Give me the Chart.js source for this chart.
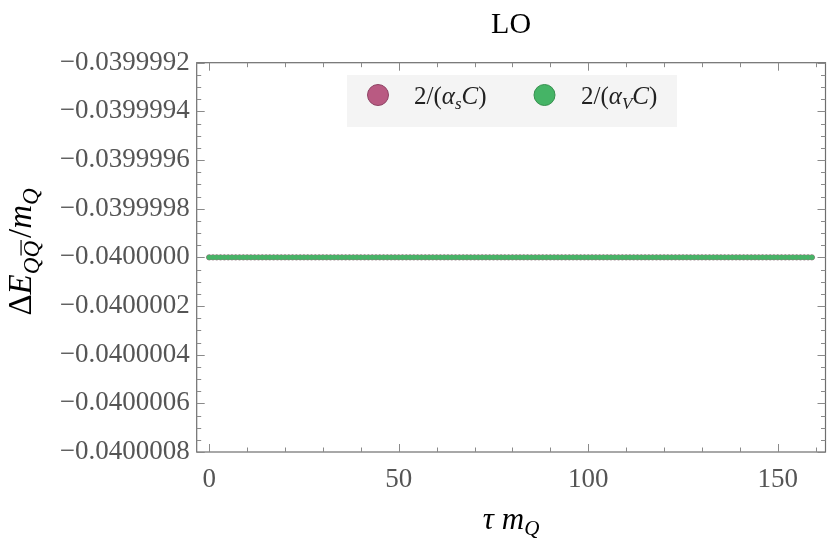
<!DOCTYPE html>
<html lang="en">
<head>
<meta charset="utf-8" />
<title>LO</title>
<style>
  html, body { margin: 0; padding: 0; background: #fff; }
  canvas { display: block; }
</style>
</head>
<body>
<canvas id="chart" width="830" height="556"></canvas>
<script src="https://cdn.jsdelivr.net/npm/chart.js@4.4.0/dist/chart.umd.min.js"></script>
<script>
// tau * m_Q sample points
const tau = [
  0, 1, 2, 3, 4, 5, 6, 7, 8, 9, 10, 11, 12, 13, 14, 15, 16, 17, 18, 19,
  20, 21, 22, 23, 24, 25, 26, 27, 28, 29, 30, 31, 32, 33, 34, 35, 36, 37, 38, 39,
  40, 41, 42, 43, 44, 45, 46, 47, 48, 49, 50, 51, 52, 53, 54, 55, 56, 57, 58, 59,
  60, 61, 62, 63, 64, 65, 66, 67, 68, 69, 70, 71, 72, 73, 74, 75, 76, 77, 78, 79,
  80, 81, 82, 83, 84, 85, 86, 87, 88, 89, 90, 91, 92, 93, 94, 95, 96, 97, 98, 99,
  100, 101, 102, 103, 104, 105, 106, 107, 108, 109, 110, 111, 112, 113, 114, 115, 116, 117, 118, 119,
  120, 121, 122, 123, 124, 125, 126, 127, 128, 129, 130, 131, 132, 133, 134, 135, 136, 137, 138, 139,
  140, 141, 142, 143, 144, 145, 146, 147, 148, 149, 150, 151, 152, 153, 154, 155, 156, 157, 158, 159
];

// Delta E / m_Q with 2/(alpha_s C)
const dE_s = [
  -0.04, -0.04, -0.04, -0.04, -0.04, -0.04, -0.04, -0.04, -0.04, -0.04, -0.04, -0.04, -0.04, -0.04, -0.04, -0.04, -0.04, -0.04, -0.04, -0.04,
  -0.04, -0.04, -0.04, -0.04, -0.04, -0.04, -0.04, -0.04, -0.04, -0.04, -0.04, -0.04, -0.04, -0.04, -0.04, -0.04, -0.04, -0.04, -0.04, -0.04,
  -0.04, -0.04, -0.04, -0.04, -0.04, -0.04, -0.04, -0.04, -0.04, -0.04, -0.04, -0.04, -0.04, -0.04, -0.04, -0.04, -0.04, -0.04, -0.04, -0.04,
  -0.04, -0.04, -0.04, -0.04, -0.04, -0.04, -0.04, -0.04, -0.04, -0.04, -0.04, -0.04, -0.04, -0.04, -0.04, -0.04, -0.04, -0.04, -0.04, -0.04,
  -0.04, -0.04, -0.04, -0.04, -0.04, -0.04, -0.04, -0.04, -0.04, -0.04, -0.04, -0.04, -0.04, -0.04, -0.04, -0.04, -0.04, -0.04, -0.04, -0.04,
  -0.04, -0.04, -0.04, -0.04, -0.04, -0.04, -0.04, -0.04, -0.04, -0.04, -0.04, -0.04, -0.04, -0.04, -0.04, -0.04, -0.04, -0.04, -0.04, -0.04,
  -0.04, -0.04, -0.04, -0.04, -0.04, -0.04, -0.04, -0.04, -0.04, -0.04, -0.04, -0.04, -0.04, -0.04, -0.04, -0.04, -0.04, -0.04, -0.04, -0.04,
  -0.04, -0.04, -0.04, -0.04, -0.04, -0.04, -0.04, -0.04, -0.04, -0.04, -0.04, -0.04, -0.04, -0.04, -0.04, -0.04, -0.04, -0.04, -0.04, -0.04
];

// Delta E / m_Q with 2/(alpha_V C)
const dE_V = [
  -0.04, -0.04, -0.04, -0.04, -0.04, -0.04, -0.04, -0.04, -0.04, -0.04, -0.04, -0.04, -0.04, -0.04, -0.04, -0.04, -0.04, -0.04, -0.04, -0.04,
  -0.04, -0.04, -0.04, -0.04, -0.04, -0.04, -0.04, -0.04, -0.04, -0.04, -0.04, -0.04, -0.04, -0.04, -0.04, -0.04, -0.04, -0.04, -0.04, -0.04,
  -0.04, -0.04, -0.04, -0.04, -0.04, -0.04, -0.04, -0.04, -0.04, -0.04, -0.04, -0.04, -0.04, -0.04, -0.04, -0.04, -0.04, -0.04, -0.04, -0.04,
  -0.04, -0.04, -0.04, -0.04, -0.04, -0.04, -0.04, -0.04, -0.04, -0.04, -0.04, -0.04, -0.04, -0.04, -0.04, -0.04, -0.04, -0.04, -0.04, -0.04,
  -0.04, -0.04, -0.04, -0.04, -0.04, -0.04, -0.04, -0.04, -0.04, -0.04, -0.04, -0.04, -0.04, -0.04, -0.04, -0.04, -0.04, -0.04, -0.04, -0.04,
  -0.04, -0.04, -0.04, -0.04, -0.04, -0.04, -0.04, -0.04, -0.04, -0.04, -0.04, -0.04, -0.04, -0.04, -0.04, -0.04, -0.04, -0.04, -0.04, -0.04,
  -0.04, -0.04, -0.04, -0.04, -0.04, -0.04, -0.04, -0.04, -0.04, -0.04, -0.04, -0.04, -0.04, -0.04, -0.04, -0.04, -0.04, -0.04, -0.04, -0.04,
  -0.04, -0.04, -0.04, -0.04, -0.04, -0.04, -0.04, -0.04, -0.04, -0.04, -0.04, -0.04, -0.04, -0.04, -0.04, -0.04, -0.04, -0.04, -0.04, -0.04
];

const xTicks = [0, 50, 100, 150];
const xMinor = [10, 20, 30, 40, 60, 70, 80, 90, 110, 120, 130, 140, 160];
const yTicks = [-0.0400008, -0.0400006, -0.0400004, -0.0400002, -0.04, -0.0399998, -0.0399996, -0.0399994, -0.0399992];
const yTickLabels = ['−0.0400008', '−0.0400006', '−0.0400004', '−0.0400002', '−0.0400000',
                     '−0.0399998', '−0.0399996', '−0.0399994', '−0.0399992'];

const SERIF = '"Liberation Serif", "DejaVu Serif", serif';
const colS = '#b95a82';
const colV = '#45b466';

// draws a row of text pieces (italic / subscript / overline) starting at x, baseline y
function drawRuns(ctx, runs, x, y, align) {
  let w = 0;
  runs.forEach(r => {
    ctx.font = (r.it ? 'italic ' : '') + r.size + 'px ' + SERIF;
    r.w = ctx.measureText(r.t).width;
    w += r.w + (r.gap || 0);
  });
  let cx = align === 'center' ? x - w / 2 : x;
  runs.forEach(r => {
    ctx.font = (r.it ? 'italic ' : '') + r.size + 'px ' + SERIF;
    ctx.textAlign = 'left';
    ctx.textBaseline = 'alphabetic';
    ctx.fillText(r.t, cx, y + (r.dy || 0));
    if (r.over) {
      ctx.beginPath();
      ctx.lineWidth = 1.2;
      ctx.strokeStyle = ctx.fillStyle;
      const oy = y + (r.dy || 0) - r.size * 0.78;
      ctx.moveTo(cx + 2, oy);
      ctx.lineTo(cx + r.w + 1, oy);
      ctx.stroke();
    }
    cx += r.w + (r.gap || 0);
  });
}

const decorPlugin = {
  id: 'decor',
  afterDraw(chart) {
    const ctx = chart.ctx;
    const a = chart.chartArea;
    const xs = chart.scales.x, ys = chart.scales.y;
    ctx.save();

    // frame
    ctx.strokeStyle = '#6e6e6e';
    ctx.lineWidth = 1.2;
    ctx.strokeRect(a.left, a.top, a.right - a.left, a.bottom - a.top);

    // inward ticks on all four sides
    ctx.strokeStyle = '#8a8a8a';
    ctx.lineWidth = 1;
    ctx.beginPath();
    const xt = (v, len) => {
      const px = Math.round(xs.getPixelForValue(v)) + 0.5;
      ctx.moveTo(px, a.bottom); ctx.lineTo(px, a.bottom - len);
      ctx.moveTo(px, a.top); ctx.lineTo(px, a.top + len);
    };
    xTicks.forEach(v => xt(v, 8));
    xMinor.forEach(v => xt(v, 4.5));
    const yt = (v, len) => {
      const py = Math.round(ys.getPixelForValue(v)) + 0.5;
      ctx.moveTo(a.left, py); ctx.lineTo(a.left + len, py);
      ctx.moveTo(a.right, py); ctx.lineTo(a.right - len, py);
    };
    yTicks.forEach((v, i) => {
      yt(v, 8);
      if (i < yTicks.length - 1) {
        const step = (yTicks[i + 1] - v) / 4;
        for (let k = 1; k < 4; k++) yt(v + k * step, 4.5);
      }
    });
    ctx.stroke();

    // title
    ctx.fillStyle = '#000';
    drawRuns(ctx, [{ t: 'LO', size: 30 }], (a.left + a.right) / 2, 33, 'center');

    // x axis title
    drawRuns(ctx, [
      { t: 'τ', size: 31, it: true, gap: 8 },
      { t: 'm', size: 31, it: true },
      { t: 'Q', size: 21, it: true, dy: 6 }
    ], (a.left + a.right) / 2, 529, 'center');

    // y axis title
    ctx.save();
    ctx.translate(31, 252);
    ctx.rotate(-Math.PI / 2);
    drawRuns(ctx, [
      { t: 'Δ', size: 33 },
      { t: 'E', size: 33, it: true },
      { t: 'Q', size: 23, it: true, dy: 8 },
      { t: 'Q', size: 23, it: true, dy: 8, over: true, gap: 3 },
      { t: '/', size: 33 },
      { t: 'm', size: 33, it: true },
      { t: 'Q', size: 23, it: true, dy: 7 }
    ], 0, 0, 'center');
    ctx.restore();

    // legend
    ctx.fillStyle = '#f4f4f4';
    ctx.fillRect(347, 75, 330, 52);
    const marker = (cx, fill, edge) => {
      ctx.beginPath();
      ctx.arc(cx, 95, 10.5, 0, Math.PI * 2);
      ctx.fillStyle = fill;
      ctx.fill();
      ctx.lineWidth = 1;
      ctx.strokeStyle = edge;
      ctx.stroke();
    };
    marker(378, colS, '#8f4465');
    marker(544.5, colV, '#37904f');
    ctx.fillStyle = '#222';
    const legRuns = sub => [
      { t: '2/(', size: 25 },
      { t: 'α', size: 25, it: true },
      { t: sub, size: 17, it: true, dy: 5 },
      { t: 'C', size: 25, it: true },
      { t: ')', size: 25 }
    ];
    drawRuns(ctx, legRuns('s'), 414, 104, 'left');
    drawRuns(ctx, legRuns('V'), 581, 104, 'left');

    ctx.restore();
  }
};

Chart.defaults.font.family = SERIF;

new Chart(document.getElementById('chart'), {
  type: 'scatter',
  data: {
    datasets: [{
      label: '2/(α_V C)',
      data: tau.map((t, i) => ({ x: t, y: dE_V[i] })),
      backgroundColor: colV,
      borderColor: 'rgba(110,150,120,0.45)',
      borderWidth: 0.5,
      pointRadius: 2.7
    }, {
      label: '2/(α_s C)',
      data: tau.map((t, i) => ({ x: t, y: dE_s[i] })),
      backgroundColor: colS,
      borderColor: '#8f4465',
      borderWidth: 0.5,
      pointRadius: 2.7
    }]
  },
  options: {
    responsive: false,
    animation: false,
    devicePixelRatio: 1,
    layout: { padding: { top: 62.7, right: 2.7, bottom: 0, left: 0 } },
    plugins: {
      legend: { display: false },
      title: { display: false },
      tooltip: { enabled: false }
    },
    scales: {
      x: {
        type: 'linear',
        min: -3.3,
        max: 162.6,
        afterBuildTicks: s => { s.ticks = xTicks.map(v => ({ value: v })); },
        afterFit: s => { s.height = 104; },
        grid: { display: false, drawTicks: false },
        border: { display: false },
        ticks: {
          autoSkip: false,
          maxRotation: 0,
          padding: 12,
          color: '#555',
          font: { size: 27 },
          callback: v => String(v)
        }
      },
      y: {
        type: 'linear',
        min: -0.0400008,
        max: -0.0399992,
        afterBuildTicks: s => { s.ticks = yTicks.map(v => ({ value: v })); },
        afterFit: s => { s.width = 196.7; },
        grid: { display: false, drawTicks: false },
        border: { display: false },
        ticks: {
          autoSkip: false,
          padding: 7,
          color: '#555',
          font: { size: 27 },
          callback: (v, i) => yTickLabels[i]
        }
      }
    }
  },
  plugins: [decorPlugin]
});
</script>
</body>
</html>
